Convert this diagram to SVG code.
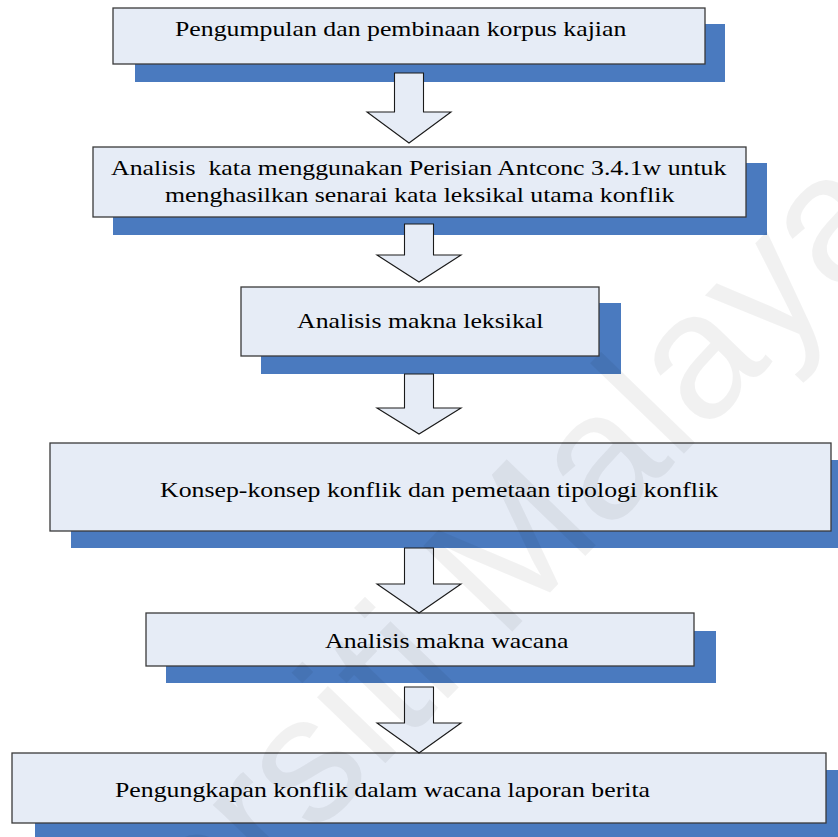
<svg xmlns="http://www.w3.org/2000/svg" width="838" height="837" viewBox="0 0 838 837">
  <style>
    .shadow { fill: #4a7abf; }
    .box { fill: #e6ecf6; stroke: #3a3a3a; stroke-width: 1.3; }
    .arrow { fill: #e6ecf6; stroke: #1a1a1a; stroke-width: 1.1; stroke-linejoin: miter; }
    .label { font-family: 'Liberation Serif', 'Times New Roman', serif; font-size: 21px; fill: #000; }
    .mark { font-family: 'Liberation Sans', Arial, sans-serif; font-size: 180px; fill: #000; fill-opacity: 0.055; }
  </style>
  <rect width="838" height="837" fill="#ffffff"/>

  <!-- labels are set in a serif face widened by 1.229 horizontally -->
  <g id="n1">
    <rect class="shadow" x="135" y="24" width="590" height="58"/>
    <rect class="box" x="113" y="8" width="592" height="56"/>
    <text class="label" transform="translate(175 36) scale(1.229 1)">Pengumpulan dan pembinaan korpus kajian</text>
  </g>

  <g id="n2">
    <rect class="shadow" x="113" y="163" width="654" height="72"/>
    <rect class="box" x="93" y="147" width="653" height="70"/>
    <text class="label" transform="translate(111 175) scale(1.229 1)" xml:space="preserve">Analisis  kata menggunakan Perisian Antconc 3.4.1w untuk</text>
    <text class="label" transform="translate(165 202) scale(1.229 1)">menghasilkan senarai kata leksikal utama konflik</text>
  </g>

  <g id="n3">
    <rect class="shadow" x="261" y="303" width="360" height="71"/>
    <rect class="box" x="241" y="287" width="358" height="69"/>
    <text class="label" transform="translate(297 328) scale(1.229 1)">Analisis makna leksikal</text>
  </g>

  <g id="n4">
    <rect class="shadow" x="71" y="460" width="780" height="88"/>
    <rect class="box" x="50" y="443" width="781" height="88"/>
    <text class="label" transform="translate(160 497) scale(1.229 1)">Konsep-konsep konflik dan pemetaan tipologi konflik</text>
  </g>

  <g id="n5">
    <rect class="shadow" x="166" y="631" width="550" height="52"/>
    <rect class="box" x="146" y="613" width="548" height="53"/>
    <text class="label" transform="translate(325 648) scale(1.229 1)">Analisis makna wacana</text>
  </g>

  <g id="n6">
    <rect class="shadow" x="35" y="770" width="815" height="80"/>
    <rect class="box" x="12" y="753" width="814" height="70"/>
    <text class="label" transform="translate(115 797) scale(1.229 1)">Pengungkapan konflik dalam wacana laporan berita</text>
  </g>

  <!-- block arrows between the steps -->
  <g id="connectors">
    <path class="arrow" d="M394.5 73 H423.5 V112 H451 L409 143 L367 112 H394.5 Z"/>
    <path class="arrow" d="M404.5 224 H433.5 V255 H461 L419 282 L377 255 H404.5 Z"/>
    <path class="arrow" d="M404.5 374 H433.5 V408 H461 L419 434 L377 408 H404.5 Z"/>
    <path class="arrow" d="M404.5 548 H433.5 V584 H461 L419 613 L377 584 H404.5 Z"/>
    <path class="arrow" d="M404.5 687 H433.5 V723 H461 L419 753 L377 723 H404.5 Z"/>
  </g>

  <!-- diagonal watermark -->
  <text class="mark" text-anchor="end" transform="translate(905 225) rotate(-46)">Universiti Malaya</text>
</svg>
